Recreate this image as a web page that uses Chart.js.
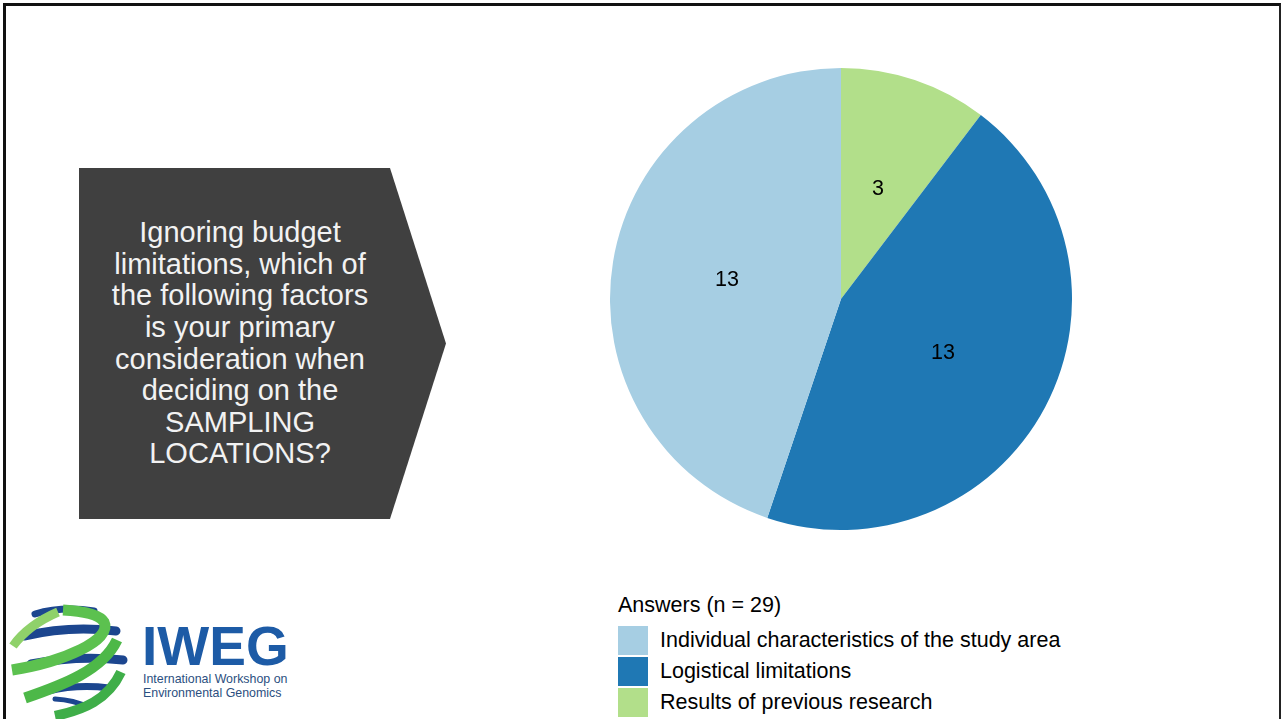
<!DOCTYPE html>
<html>
<head>
<meta charset="utf-8">
<title>Sampling locations</title>
<script src="https://cdn.jsdelivr.net/npm/chart.js@4.4.1/dist/chart.umd.min.js"></script>
<style>
  body {
    margin: 0;
    width: 1281px;
    height: 719px;
    overflow: hidden;
    background: #fff;
    position: relative;
    font-family: "Liberation Sans", Arial, sans-serif;
  }
  #frame {
    position: absolute;
    left: 3px;
    top: 3px;
    width: 1273px;
    height: 740px;
    border-top: 3px solid #111;
    border-left: 3px solid #111;
    border-right: 2px solid #222;
  }
  #question {
    position: absolute;
    left: 79px;
    top: 168px;
    width: 367px;
    height: 351px;
    background: #404040;
    clip-path: polygon(0 0, 311px 0, 100% 50%, 311px 100%, 0 100%);
  }
  #question p {
    position: absolute;
    left: 0;
    top: 0;
    width: 322px;
    height: 351px;
    margin: 0;
    display: flex;
    align-items: center;
    justify-content: center;
    text-align: center;
    color: #f2f2f2;
    font-size: 29px;
    line-height: 31.6px;
  }
  #pie {
    position: absolute;
    left: 610px;
    top: 68px;
  }
  #legend {
    position: absolute;
    left: 618px;
    top: 592px;
    font-size: 21.5px;
    color: #000;
  }
  #legend .title {
    height: 26px;
    line-height: 26px;
    margin-bottom: 7px;
  }
  #legend .row {
    display: flex;
    align-items: center;
    height: 31px;
  }
  #legend .box {
    width: 30px;
    height: 29px;
    margin-right: 12px;
  }
  #logo {
    position: absolute;
    left: 8px;
    top: 600px;
  }
</style>
</head>
<body>
<div id="frame"></div>

<div id="question">
  <p>Ignoring budget<br>limitations, which of<br>the following factors<br>is your primary<br>consideration when<br>deciding on the<br>SAMPLING<br>LOCATIONS?</p>
</div>

<canvas id="pie" width="462" height="462"></canvas>

<div id="legend"></div>

<svg id="logo" width="300" height="119" viewBox="0 0 300 119">
  <!-- navy ribbons round the globe -->
  <g fill="none" stroke="#1c468f" stroke-linecap="round">
    <path d="M27 14 Q55 6 86 11" stroke-width="7"/>
    <path d="M16 36 Q62 25 108 31" stroke-width="9"/>
    <path d="M23 64 Q70 55 115 60" stroke-width="9"/>
    <path d="M40 91 Q70 84 101 88" stroke-width="7"/>
    <path d="M47 99 Q66 100 80 107" stroke-width="5"/>
  </g>
  <!-- green helix -->
  <g fill="none" stroke-linecap="butt">
    <path d="M5 46 Q20 25 50 12" stroke="#8fd16a" stroke-width="9"/>
    <path d="M4 70 C55 62 105 40 96 22 Q90 12 55 10" stroke="#5cc14f" stroke-width="11"/>
    <path d="M17 98 C55 85 95 70 109 40" stroke="#4db848" stroke-width="11"/>
    <path d="M47 116 C75 110 100 100 113 72" stroke="#3fae49" stroke-width="10"/>
  </g>
  <text x="134" y="65" font-family="Liberation Sans, Arial, sans-serif" font-weight="bold" font-size="55" fill="#1d5ba6">IWEG</text>
  <text x="135" y="83" font-family="Liberation Sans, Arial, sans-serif" font-size="12.4" fill="#2b4f80">International Workshop on</text>
  <text x="135" y="97" font-family="Liberation Sans, Arial, sans-serif" font-size="12.4" fill="#2b4f80">Environmental Genomics</text>
</svg>

<script>
// answers to the sampling-location question, in legend order
const answerLabels = ["Individual characteristics of the study area", "Logistical limitations", "Results of previous research"];
const answerCounts = [13, 13, 3];
const answerColors = ["#a6cee3", "#1f78b4", "#b2df8a"];
const legendTitle = "Answers (n = 29)";

// pie runs clockwise from the top starting with the last answer
const pieLabels = answerLabels.slice().reverse();
const pieCounts = answerCounts.slice().reverse();
const pieColors = answerColors.slice().reverse();

// count written in the middle of each slice
const sliceValues = {
  id: "sliceValues",
  afterDatasetsDraw(chart) {
    const ctx = chart.ctx;
    const meta = chart.getDatasetMeta(0);
    ctx.save();
    ctx.font = "21.5px 'Liberation Sans', Arial, sans-serif";
    ctx.fillStyle = "#000";
    ctx.textAlign = "center";
    ctx.textBaseline = "middle";
    meta.data.forEach((arc, i) => {
      const pos = arc.tooltipPosition();
      ctx.fillText(String(chart.data.datasets[0].data[i]), pos.x, pos.y);
    });
    ctx.restore();
  }
};

new Chart(document.getElementById("pie").getContext("2d"), {
  type: "pie",
  data: {
    labels: pieLabels,
    datasets: [{
      data: pieCounts,
      backgroundColor: pieColors,
      borderWidth: 0
    }]
  },
  options: {
    responsive: false,
    animation: false,
    layout: { padding: 0 },
    plugins: {
      legend: { display: false },
      tooltip: { enabled: false }
    }
  },
  plugins: [sliceValues]
});

// legend underneath the pie
const legend = document.getElementById("legend");
const title = document.createElement("div");
title.className = "title";
title.textContent = legendTitle;
legend.appendChild(title);
answerLabels.forEach((label, i) => {
  const row = document.createElement("div");
  row.className = "row";
  const box = document.createElement("span");
  box.className = "box";
  box.style.background = answerColors[i];
  const text = document.createElement("span");
  text.textContent = label;
  row.appendChild(box);
  row.appendChild(text);
  legend.appendChild(row);
});
</script>
</body>
</html>
